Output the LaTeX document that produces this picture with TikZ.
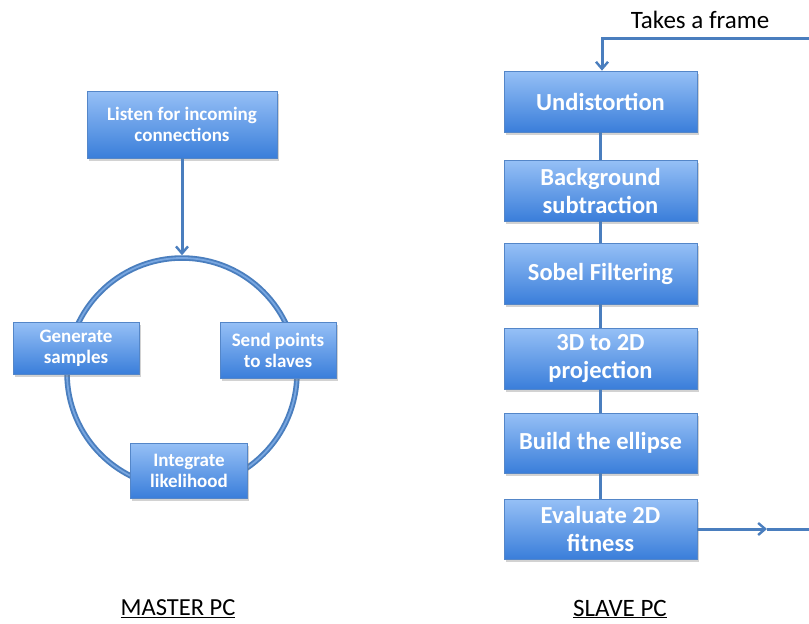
\documentclass[tikz,border=0pt]{standalone}
\usepackage{fontspec}
\setmainfont{Carlito}
\usetikzlibrary{arrows.meta,shadows}
\definecolor{lineblue}{RGB}{74,126,190}
\definecolor{boxtop}{RGB}{150,192,246}
\definecolor{boxbot}{RGB}{58,126,218}
\definecolor{boxedge}{RGB}{84,134,200}
\tikzset{
  box/.style={rectangle, draw=boxedge, line width=0.7pt, top color=boxtop, bottom color=boxbot,
    text=white, align=center, inner sep=2pt,
    drop shadow={opacity=0.35, shadow xshift=1.5pt, shadow yshift=-2.5pt}},
  mbox/.style={box, font=\fontsize{19}{21}\selectfont\bfseries},
  sbox/.style={box, font=\fontsize{24.5}{28}\selectfont\bfseries, minimum width=193pt, minimum height=61pt},
  conn/.style={draw=lineblue, line width=3pt},
  tip/.style={-{Straight Barb[length=7pt,width=12pt,line width=2.4pt]}},
  lbl/.style={font=\fontsize{25}{28}\selectfont, text=black},
}
\begin{document}
\begin{tikzpicture}[x=1pt,y=-1pt]
\useasboundingbox[fill=white] (0,0) rectangle (809,624);
% master
\node[circle, draw=lineblue, line width=5.5pt, minimum size=230pt, inner sep=0pt] (ring) at (182,373) {};
\draw[draw=boxtop!60!lineblue, line width=1.8pt] (182,373) circle (115);
\node[mbox, minimum width=190pt, minimum height=67pt] (listen) at (182,124.5) {Listen for incoming\\connections};
\node[mbox, minimum width=126pt, minimum height=52pt] (gen) at (76,348) {Generate\\samples};
\node[mbox, minimum width=116pt, minimum height=56pt] (send) at (278,350) {Send points\\to slaves};
\node[mbox, minimum width=117pt, minimum height=55pt] (integ) at (189,470.5) {Integrate\\likelihood};
\draw[conn, tip] (listen) -- (ring.north);
% slave
\node[sbox] (und) at (600.5,101.5) {Undistortion};
\node[sbox] (bg) at (600.5,190.5) {Background\\subtraction};
\node[sbox] (sob) at (600.5,273.5) {Sobel Filtering};
\node[sbox] (p3d) at (600.5,358.5) {3D to 2D\\projection};
\node[sbox, minimum height=60pt] (ell) at (600.5,443) {Build the ellipse};
\node[sbox, minimum height=60pt] (ev) at (600.5,529) {Evaluate 2D\\fitness};
\draw[conn] (und) -- (bg);
\draw[conn] (bg) -- (sob);
\draw[conn] (sob) -- (p3d);
\draw[conn] (p3d) -- (ell);
\draw[conn] (ell) -- (ev);
\coordinate (inR) at (809,38);
\coordinate (inC) at (602,38);
\draw[conn, tip] (inR) -- (inC) -- (und.north -| inC);
\coordinate (outM) at (767,529);
\coordinate (outR) at (809,529);
\draw[conn, tip] (ev.east) -- (outM);
\draw[conn] (outM) -- (outR);
\node[lbl] (take) at (700,20) {Takes a frame};
\node[lbl, font=\fontsize{24.5}{28}\selectfont] (master) at (178,609) {\underline{MASTER PC}};
\node[lbl, font=\fontsize{25}{28}\selectfont] (slave) at (620,609) {\underline{SLAVE PC}};
\end{tikzpicture}
\end{document}
